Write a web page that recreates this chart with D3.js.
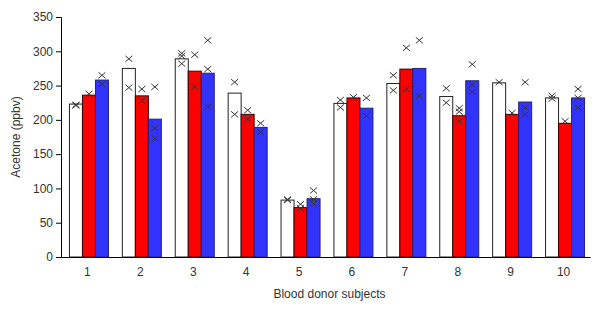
<!DOCTYPE html>
<html>
<head>
<meta charset="utf-8">
<script src="https://cdn.jsdelivr.net/npm/d3@7"></script>
<style>
  body { margin: 0; background: #fff; }
  text { font-family: "Liberation Sans", Arial, sans-serif; fill: #333; }
</style>
</head>
<body>
<svg id="chart"></svg>
<script>
// categories (blood donor subjects)
const subjects = ["1", "2", "3", "4", "5", "6", "7", "8", "9", "10"];
const seriesNames = ["white", "red", "blue"];

// mean acetone per subject, one array per series
const whiteVals = [223, 275, 289, 239, 83, 224, 253, 234, 254, 232];
const redVals   = [236, 235, 271, 208, 72, 232, 274, 206, 208, 195];
const blueVals  = [258, 201, 268, 189, 85, 217, 275, 257, 226, 232];

// individual measurements (the x marks)
const whitePts = [[222, 221], [289, 247], [297, 293, 282], [255, 208], [84, 83], [229, 218], [265, 243], [246, 225], [255], [235, 231]];
const redPts   = [[238], [245, 228], [295, 248], [214, 201], [77, 71], [233], [305, 245], [217, 212, 198], [210], [198]];
const bluePts  = [[265, 252], [248, 188, 173], [316, 274, 219], [195, 182], [97, 84, 78], [232, 206], [316, 235], [281, 251, 241], [255, 218, 208], [245, 232, 218]];

const yTicks = [0, 50, 100, 150, 200, 250, 300, 350];

const W = 600, H = 318;
const margin = {top: 17, right: 10, bottom: 61, left: 61},
    width = 590 - margin.left,
    height = 257 - margin.top;

const svg = d3.select("#chart")
    .attr("width", W)
    .attr("height", H)
    .append("g")
    .attr("transform", `translate(${margin.left},${margin.top})`);

const x0 = d3.scaleBand()
    .domain(subjects)
    .range([0, width]);

const x1 = d3.scaleBand()
    .domain(seriesNames)
    .range([0, 39])
    .padding(0);

const y = d3.scaleLinear()
    .domain([0, 350])
    .range([height, 0]);

const fills = {white: "#ffffff", red: "#ff0000", blue: "#3333ff"};
const strokes = {white: "#222", red: "#3a0000", blue: "#22227a"};

// build rows for drawing
const rows = subjects.map((s, i) => ({
    subject: s,
    bars: [
        {key: "white", value: whiteVals[i], pts: whitePts[i]},
        {key: "red", value: redVals[i], pts: redPts[i]},
        {key: "blue", value: blueVals[i], pts: bluePts[i]}
    ]
}));

const groupOffset = (x0.bandwidth() - 39) / 2 + 1;

const groups = svg.selectAll(".subject")
    .data(rows)
    .enter().append("g")
    .attr("class", "subject")
    .attr("transform", d => `translate(${x0(d.subject) + groupOffset},0)`);

groups.selectAll("rect")
    .data(d => d.bars)
    .enter().append("rect")
    .attr("x", d => x1(d.key) + 0.5)
    .attr("y", d => y(d.value))
    .attr("width", x1.bandwidth())
    .attr("height", d => height - y(d.value))
    .attr("fill", d => fills[d.key])
    .attr("stroke", d => strokes[d.key])
    .attr("stroke-width", 1);

// x markers for individual readings
const pts = groups.selectAll(".pt")
    .data(d => d.bars.flatMap(b => b.pts.map(v => ({key: b.key, v: v}))))
    .enter().append("path")
    .attr("class", "pt")
    .attr("transform", d => `translate(${x1(d.key) + x1.bandwidth() / 2 + 0.5},${y(d.v)})`)
    .attr("d", "M-3.5,-3L3.5,3M-3.5,3L3.5,-3")
    .attr("stroke", "#333")
    .attr("stroke-width", 1)
    .attr("fill", "none");

// Y axis
const yAxis = svg.append("g")
    .call(d3.axisLeft(y).tickValues(yTicks).tickSize(5).tickPadding(3));
yAxis.select(".domain").attr("stroke", "#000");
yAxis.selectAll(".tick line").attr("stroke", "#000");
yAxis.selectAll("text").style("font-size", "12px").attr("fill", "#333");

// X axis
const xAxis = svg.append("g")
    .attr("transform", `translate(0,${height})`)
    .call(d3.axisBottom(x0).tickSize(0).tickPadding(10));
xAxis.select(".domain").attr("stroke", "#000");
xAxis.selectAll("text").style("font-size", "12px").attr("fill", "#333");

// axis titles
svg.append("text")
    .attr("x", width / 2 + 4)
    .attr("y", 298 - margin.top)
    .style("text-anchor", "middle")
    .style("font-size", "12px")
    .text("Blood donor subjects");

svg.append("text")
    .attr("transform", "rotate(-90)")
    .attr("x", -(137 - margin.top))
    .attr("y", 20 - margin.left)
    .style("text-anchor", "middle")
    .style("font-size", "12px")
    .text("Acetone (ppbv)");
</script>
</body>
</html>
